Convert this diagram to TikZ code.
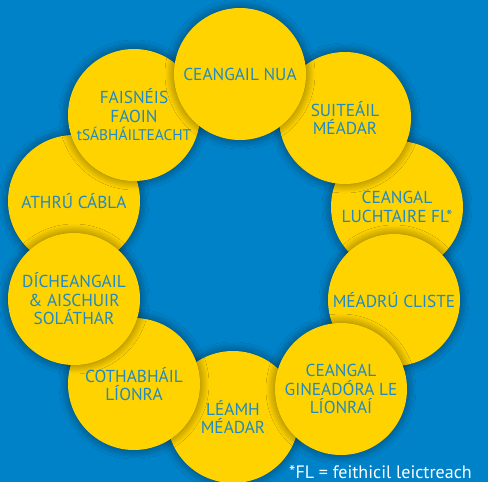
\documentclass[tikz,border=0pt]{standalone}
\usepackage{fontspec}
\setmainfont{PT Sans}
\usetikzlibrary{shadows.blur}
\definecolor{bgblue}{RGB}{0,130,200}
\definecolor{discyellow}{RGB}{255,211,0}
\definecolor{txtblue}{RGB}{33,137,196}

\begin{document}
\begin{tikzpicture}[x=1pt,y=-1pt,
  disc/.style={circle,fill=discyellow,minimum size=132pt,inner sep=-12pt,
    align=center,text=txtblue,font=\fontsize{17.3}{18.5}\selectfont,
    blur shadow={shadow xshift=0pt,shadow yshift=0pt,shadow blur radius=9pt,
      shadow blur steps=12,shadow opacity=50}}]

%Background
\fill[bgblue] (0,0) rectangle (488,482);
\clip (0,0) rectangle (488,482);

%Circles, bottom layer first
\node[disc] (luchtaire) at (397,207) {CEANGAL\\LUCHTAIRE FL*};
\node[disc] (suiteail)  at (345,118) {SUITEÁIL\\MÉADAR};
\node[disc] (leamh)     at (233,417) {LÉAMH\\MÉADAR};
\node[disc] (athru)     at (74,201)  {ATHRÚ CÁBLA};
\node[disc] (meadru)    at (394,300) {MÉADRÚ CLISTE};
\node[disc] (gineadora) at (341,389) {CEANGAL\\GINEADÓRA LE\\LÍONRAÍ};
\node[disc] (cothabhail) at (134,384) {COTHABHÁIL\\LÍONRA};
\node[disc] (dicheangail) at (74,299) {DÍCHEANGAIL\\\& AISCHUIR\\SOLÁTHAR};
\node[disc] (faisneis)  at (134,115) {FAISNÉIS\\FAOIN\\{\fontsize{15.4}{18.5}\selectfont tSÁBHÁILTEACHT}};
\node[disc] (nua)       at (240,74)  {CEANGAIL NUA};

%Footnote
\node[anchor=base west,inner sep=0pt,text=white,font=\fontsize{18}{20}\selectfont] (note) at (289,478) {*FL = feithicil leictreach};
\end{tikzpicture}
\end{document}
